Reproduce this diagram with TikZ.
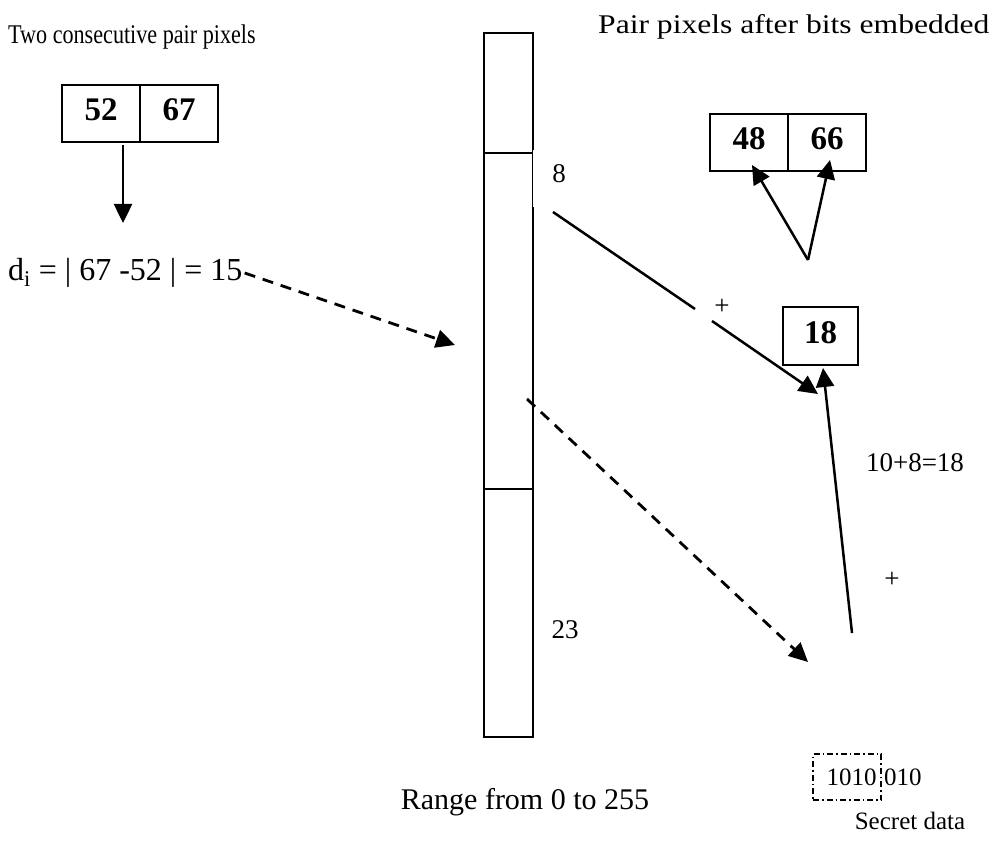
\documentclass[tikz,border=0pt]{standalone}
\usepackage{fontspec}
\setmainfont{Liberation Serif}
\usetikzlibrary{arrows.meta}
\begin{document}
\begin{tikzpicture}[x=1pt,y=-1pt,
  cell/.style={draw,line width=2.8pt,minimum width=78pt,minimum height=57pt,outer sep=0pt,
    inner sep=0pt,anchor=north west,font=\fontsize{33}{36}\selectfont\bfseries},
  band/.style={draw,line width=2.8pt,minimum width=49pt,inner sep=0pt,outer sep=0pt,anchor=north west},
  lbl/.style={inner sep=0pt,font=\fontsize{27}{30}\selectfont},
  plus/.style={inner sep=0pt,font=\fontsize{27}{30}\selectfont},
  arr/.style={line width=2.5pt,-{Triangle[length=19pt,width=18pt]}},
  darr/.style={arr,line width=2.8pt,dash pattern=on 11pt off 8pt},
  bitbox/.style={draw,line width=1.6pt,dash pattern=on 6pt off 3pt on 1.5pt off 3pt,
    minimum width=68pt,minimum height=46pt,inner sep=0pt,outer sep=0pt},
]
\useasboundingbox (0,0) rectangle (995,842);

% headings
\node[lbl,anchor=west] (hleft) at (8,37) {\scalebox{0.82}[1]{Two consecutive pair pixels}};
\node[lbl,anchor=west] (hright) at (598,27) {\scalebox{1.17}[1]{Pair pixels after bits embedded}};

% original pixel pair
\node[cell] (p52) at (62,85) {\raisebox{7pt}{52}};
\node[cell] (p67) at (140,85) {\raisebox{7pt}{67}};

% difference value
\node[lbl,anchor=west,font=\fontsize{32}{34}\selectfont] (di) at (8,273) {d\textsubscript{i} = | 67 -52 | = 15};

% range table 0..255
\node[band,minimum height=120pt] (r1) at (484,33) {};
\node[band,minimum height=336pt] (r2) at (484,153) {};
\node[band,minimum height=248pt] (r3) at (484,489) {};
\fill[white] (533.1,150) rectangle (536,207);
\node[lbl] (lo) at (559,174) {8};
\node[lbl] (hi) at (565,630) {23};
\node[lbl,font=\fontsize{30}{32}\selectfont] (range) at (525,802) {Range from 0 to 255};

% embedded pair
\node[cell] (p48) at (710,114) {\raisebox{7pt}{48}};
\node[cell] (p66) at (788,114) {\raisebox{7pt}{66}};
\node[cell,minimum width=75pt,minimum height=58pt] (sum) at (783,307) {\raisebox{7pt}{18}};

% labels on the right
\node[plus] (plusa) at (722,307) {+};
\node[lbl] (calc) at (915,463) {10+8=18};
\node[plus] (plusb) at (892,580) {+};

% secret bits
\node[bitbox,font=\fontsize{25}{28}\selectfont] (bits) at (847,777) {\hspace*{9pt}1010};
\node[lbl,anchor=west,font=\fontsize{25}{28}\selectfont] (rest) at (884,777) {010};
\node[lbl,font=\fontsize{25}{28}\selectfont] (secret) at (910,821) {Secret data};

% connector end points
\coordinate (c1) at (123,145);
\coordinate (c2) at (123,223);
\coordinate (c3) at (455,345);
\coordinate (c4) at (553,212);
\coordinate (c5) at (695,309);
\coordinate (c6) at (712,321);
\coordinate (c7) at (818,394);
\coordinate (c8) at (852,633);
\coordinate (c9) at (823,368);
\coordinate (c10) at (527,399);
\coordinate (c11) at (808,662);
\coordinate (c12) at (808,260);
\coordinate (c13) at (752,165);
\coordinate (c14) at (830,160);

% connectors
\draw[arr] (c1) -- (c2);
\draw[darr] ([xshift=2pt]di.east) -- (c3);
\draw[arr] (c4) -- (c5) (c6) -- (c7);
\draw[arr] (c8) -- (c9);
\draw[darr] (c10) -- (c11);
\draw[arr] (c12) -- (c13);
\draw[arr] (c12) -- (c14);
\end{tikzpicture}
\end{document}
